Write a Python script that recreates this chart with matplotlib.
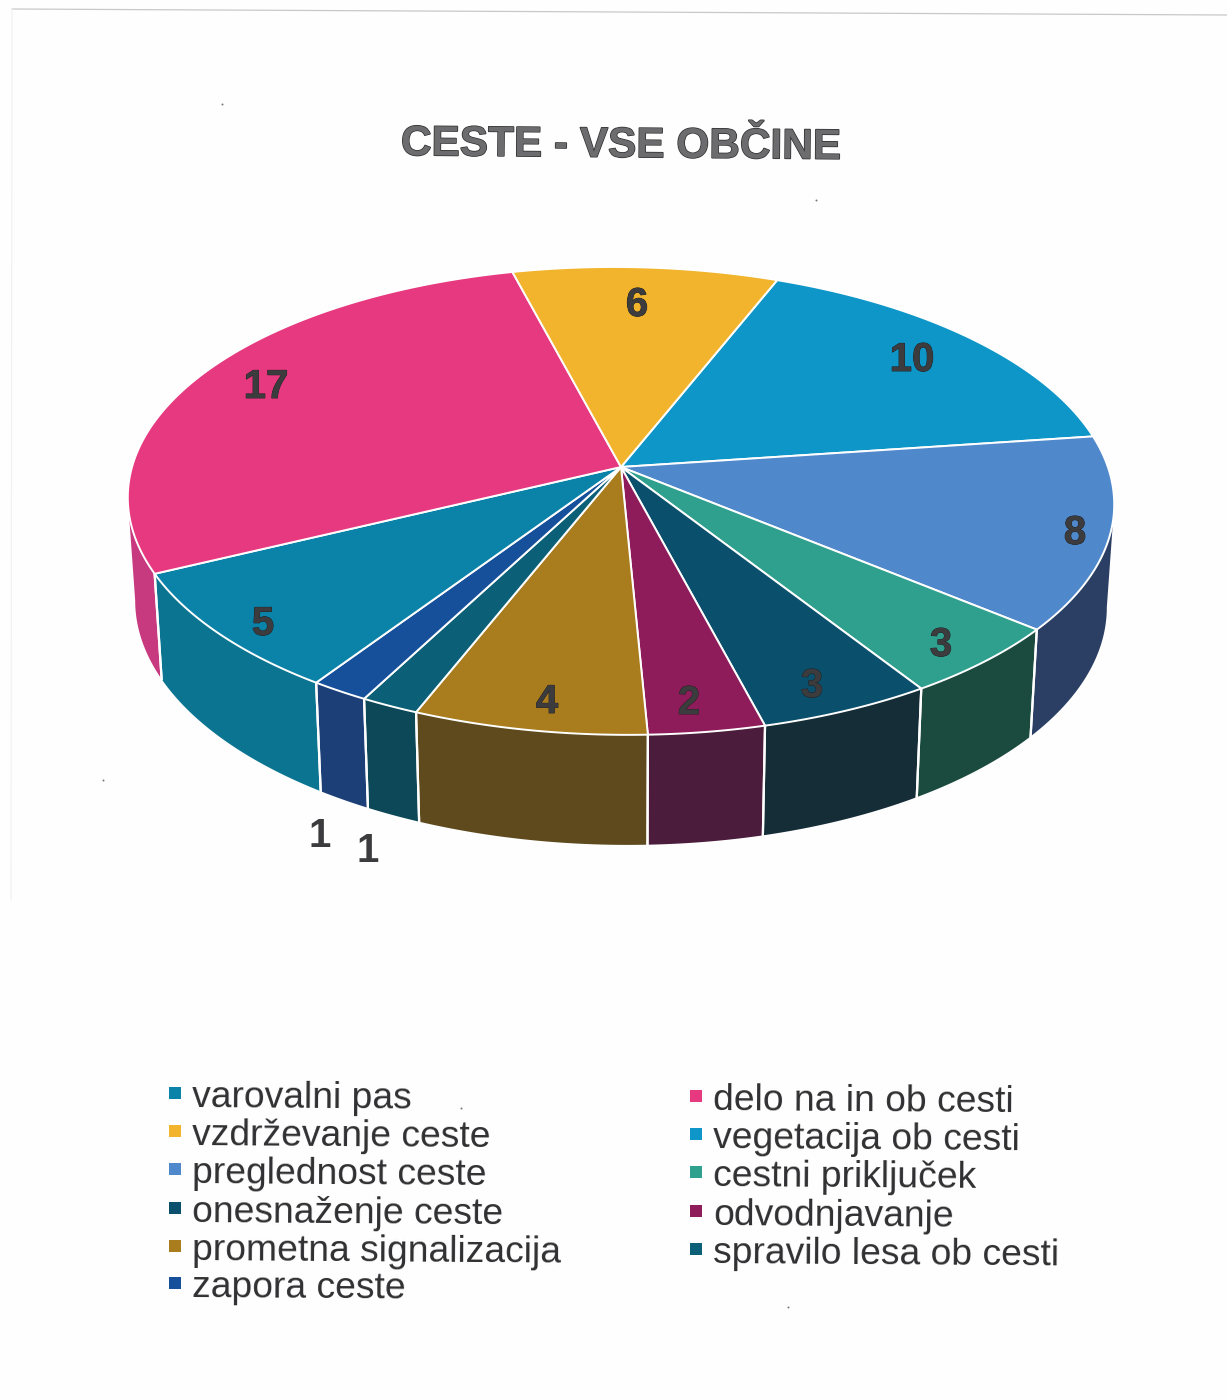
import numpy as np
from matplotlib import pyplot as plt
import matplotlib.patheffects as pe

plt.rcParams['font.family'] = ['Liberation Sans', 'DejaVu Sans']

# clockwise from the 6/10 boundary at the back of the pie
categories = ['vegetacija ob cesti', 'preglednost ceste', 'cestni priključek', 'onesnaženje ceste',
              'odvodnjavanje', 'prometna signalizacija', 'spravilo lesa ob cesti', 'zapora ceste',
              'varovalni pas', 'delo na in ob cesti', 'vzdrževanje ceste']
values = [10, 8, 3, 3, 2, 4, 1, 1, 5, 17, 6]
top_colors = ['#0f96c8', '#5088cc', '#2fa08e', '#0a4f6b', '#8f1c5a', '#a97c1e', '#0b5f76', '#17509a',
              '#0b82a8', '#e6397f', '#f2b42c']
side_colors = ['#0f7aa5', '#2a3f63', '#1b4a3e', '#142d37', '#4b1c3b', '#5f4a1d', '#0c4858', '#1c3f78',
               '#0b7591', '#c73a80', '#c9942a']
legend_left = ['varovalni pas', 'vzdrževanje ceste', 'preglednost ceste', 'onesnaženje ceste',
               'prometna signalizacija', 'zapora ceste']
legend_right = ['delo na in ob cesti', 'vegetacija ob cesti', 'cestni priključek', 'odvodnjavanje',
                'spravilo lesa ob cesti']

# pie geometry, in picture pixels
CX, CY = 621, 467
A, B, K = 488, 229, 0.145
START = 21.3
SHEAR = 0.007
BOTTOM_CY, BOTTOM_SX, BOTTOM_SY = 569, 0.985, 1.03
LIMIT = np.degrees(np.arccos(-K))
label_xy = [(912, 358), (1075, 531), (941, 643), (812, 684), (689, 701), (547, 700),
            (368, 849), (320, 834), (263, 622), (266, 385), (637, 303)]
legend_left_y = [1096, 1134, 1172, 1211, 1249, 1286]
legend_right_y = [1099, 1137, 1175, 1214, 1252]


def project(theta, bottom=False):
    ''' perspective view of the pie circle, theta clockwise from the back '''
    t = np.radians(theta)
    w = 1 + K * np.cos(t)
    x = A * np.sin(t) / w
    y = -B * np.cos(t) / w
    if bottom:
        x, y = BOTTOM_SX * x, BOTTOM_SY * y
        return CX + x, BOTTOM_CY + y + SHEAR * x
    return CX + x, CY + y + SHEAR * x


fig = plt.figure(figsize=(12.27, 13.99), dpi=100, facecolor='#fefefe')
ax = fig.add_axes([0, 0, 1, 1])
ax.set_xlim(0, 1227)
ax.set_ylim(1399, 0)
ax.axis('off')

edges = START + 360 * np.cumsum([0] + values) / sum(values)

''' sides first, top surface over them '''
for i in range(len(values)):
    t1 = max(edges[i], LIMIT)
    t2 = min(edges[i + 1], 360 - LIMIT)
    if t2 <= t1:
        continue
    arc = np.linspace(t1, t2, 80)
    xt, yt = project(arc)
    xb, yb = project(arc, bottom=True)
    ax.fill(np.r_[xt, xb[::-1]], np.r_[yt, yb[::-1]], fc=side_colors[i], ec='none', zorder=2)
    for t in (t1, t2):
        if LIMIT < t < 360 - LIMIT:
            x0, y0 = project(t)
            x1, y1 = project(t, bottom=True)
            ax.plot([x0, x1], [y0, y1], color='white', lw=1.6, zorder=3)

for i in range(len(values)):
    arc = np.linspace(edges[i], edges[i + 1], 120)
    x, y = project(arc)
    ax.fill(np.r_[CX, x], np.r_[CY, y], fc=top_colors[i], ec='white', lw=1.4, joinstyle='round', zorder=4)

''' value labels '''
for v, (x, y), cat in zip(values, label_xy, categories):
    outside = cat in ('spravilo lesa ob cesti', 'zapora ceste')
    ax.text(x, y + 2, str(v), ha='center', va='center', fontsize=29, fontweight='bold', color='#3c3c3e',
            zorder=6, path_effects=[pe.withStroke(linewidth=0.6, foreground='#1c1c1e')] if not outside else None)

''' title '''
ax.text(621, 146, 'CESTE - VSE OBČINE', ha='center', va='center', fontsize=30.5, fontweight='bold',
        color='#6c6c6e', rotation=-0.5, rotation_mode='anchor',
        path_effects=[pe.withStroke(linewidth=1.0, foreground='#2a2a2a')])

''' legend '''
colors = dict(zip(categories, top_colors))
for names, ys, mx, tx in ((legend_left, legend_left_y, 175, 192), (legend_right, legend_right_y, 696, 713)):
    for name, y in zip(names, ys):
        ax.scatter([mx], [y - 3], marker='s', s=85, color=colors[name], linewidths=0, zorder=5)
        ax.text(tx, y + 2, name, ha='left', va='center', fontsize=26.8, color='#303032',
                rotation=-0.4, rotation_mode='anchor')

''' scan edge of the page and specks '''
ax.plot([12, 1227], [9, 15], color='#c8c8c8', lw=0.9, zorder=1)
ax.plot([12, 11], [9, 900], color='#f2f2f2', lw=0.9, zorder=1)
ax.scatter([222, 816, 103, 461, 788], [104, 200, 780, 1108, 1307], s=2, color='#777777', linewidths=0)

fig.savefig('out.png', dpi=100, facecolor=fig.get_facecolor())
